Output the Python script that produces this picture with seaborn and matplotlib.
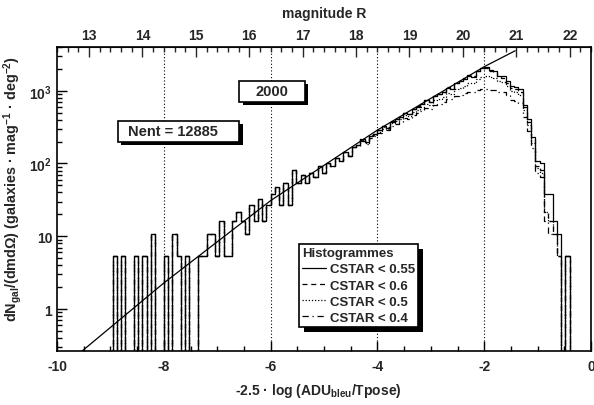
import numpy as np
import pandas as pd
import seaborn as sns
import matplotlib.pyplot as plt
import matplotlib.patheffects as pe
from matplotlib.patches import Rectangle
from matplotlib.ticker import MultipleLocator, FixedLocator, LogLocator, NullFormatter

############################
# 1. Data
############################

# 125 bins of 0.08 on -2.5 log(ADU/Tpose)
x_min, x_max, n_bins = -10.0, 0.0, 125

# one galaxy in a bin, in galaxies / mag / deg^2
norm = 5.36

# bright end (-10 .. -4.4): identical for all CSTAR cuts
bright_counts = [0, 0, 0, 0, 0, 0, 0, 0, 0, 0,
                 0, 0, 0, 1, 0, 1, 0, 0, 1, 0,
                 1, 0, 2, 0, 0, 1, 0, 2, 1, 0,
                 1, 0, 0, 1, 1, 2, 2, 1, 3, 1,
                 1, 3, 4, 3, 2, 5, 3, 6, 3, 5,
                 7, 9, 5, 10, 5, 15, 10, 13, 10, 14,
                 12, 17, 14, 19, 17, 22, 20, 27, 24, 31]

# faint end (-4.4 .. 0) for each cut
faint_cstar_055 = [34, 40, 37, 45, 48, 53, 62, 58, 70, 76,
                   80, 92, 88, 104, 112, 122, 138, 130, 158, 168,
                   180, 205, 196, 235, 250, 270, 300, 290, 345, 380,
                   390, 360, 350, 300, 295, 250, 216, 210, 197, 120,
                   76, 43, 20, 19, 7, 7, 3, 2, 0, 1,
                   0, 0, 0, 0, 0]
faint_cstar_06 = [34, 41, 37, 46, 48, 54, 62, 59, 71, 76,
                  82, 92, 90, 104, 114, 122, 140, 132, 160, 170,
                  182, 208, 200, 238, 255, 275, 305, 300, 350, 375,
                  380, 350, 335, 290, 280, 235, 205, 195, 180, 110,
                  70, 40, 17, 15, 4, 3, 2, 1, 0, 1,
                  0, 0, 0, 0, 0]
faint_cstar_05 = [33, 39, 36, 44, 46, 51, 60, 56, 67, 72,
                  76, 86, 83, 96, 102, 110, 122, 118, 138, 145,
                  155, 172, 170, 195, 205, 220, 240, 240, 270, 290,
                  300, 290, 280, 255, 245, 215, 185, 180, 165, 100,
                  64, 36, 16, 14, 4, 3, 2, 1, 0, 1,
                  0, 0, 0, 0, 0]
faint_cstar_04 = [32, 38, 35, 42, 44, 49, 56, 53, 62, 66,
                  70, 78, 76, 86, 92, 98, 108, 104, 118, 124,
                  132, 145, 142, 158, 165, 172, 182, 180, 190, 195,
                  195, 190, 188, 182, 178, 165, 140, 135, 125, 80,
                  52, 30, 14, 12, 3, 2, 2, 1, 0, 1,
                  0, 0, 0, 0, 0]

labels = ["CSTAR < 0.55", "CSTAR < 0.6", "CSTAR < 0.5", "CSTAR < 0.4"]
linestyles = ["-", (0, (4, 3)), (0, (1, 1.5)), (0, (5, 3, 1, 3))]

# fitted curve drawn over the histograms
fit_x = [-9.53, -8.0, -6.0, -4.0, -2.0, -1.42]
fit_y = [0.265, 2.28, 30.9, 288.0, 2140.0, 3540.0]

# magnitude R = x + offset
mag_offset = 22.4
n_entries = 12885
year_label = "2000"

############################
# 2. Style
############################

sns.set_style("ticks")
plt.rcParams["font.family"] = ["Liberation Sans", "DejaVu Sans"]
plt.rcParams["font.weight"] = "bold"
plt.rcParams["axes.labelweight"] = "bold"
plt.rcParams["axes.unicode_minus"] = False
plt.rcParams["mathtext.fontset"] = "custom"
plt.rcParams["mathtext.rm"] = "Liberation Sans:bold"
plt.rcParams["mathtext.bf"] = "Liberation Sans:bold"
plt.rcParams["mathtext.it"] = "Liberation Sans:bold"
plt.rcParams["mathtext.default"] = "bf"

fig = plt.figure(figsize=(5.94, 4.06), dpi=100)
ax = fig.add_axes([0.096, 0.133, 0.899, 0.749])

############################
# 3. Histograms
############################

edges = np.linspace(x_min, x_max, n_bins + 1)
centers = 0.5 * (edges[:-1] + edges[1:])

hist_lines = []
for faint, lab, ls in zip([faint_cstar_055, faint_cstar_06, faint_cstar_05, faint_cstar_04],
                          labels, linestyles):
    counts = np.array(bright_counts + faint, dtype=float)
    df = pd.DataFrame({"x": centers, "w": counts * norm})
    n_before = len(ax.lines)
    sns.histplot(data=df, x="x", weights="w", bins=edges.tolist(), element="step",
                 fill=False, color="black", linewidth=0.9, linestyle=ls, ax=ax)
    if len(ax.lines) > n_before:
        ax.lines[-1].set_label(lab)
        hist_lines.append(ax.lines[-1])

sns.lineplot(x=fit_x, y=fit_y, color="black", linewidth=0.9, ax=ax)

ax.set_yscale("log", nonpositive="clip")
ax.set_xlim(x_min, x_max)
ax.set_ylim(0.265, 4000)

for gx in [-8, -6, -4, -2]:
    ax.axvline(gx, color="black", linestyle=(0, (1, 2)), linewidth=0.8, zorder=0)

############################
# 4. Axes, ticks, labels
############################

for side in ["left", "bottom", "top", "right"]:
    ax.spines[side].set_linewidth(1.2)
    ax.spines[side].set_color("black")

ax.xaxis.set_major_locator(MultipleLocator(2))
ax.xaxis.set_minor_locator(MultipleLocator(0.5))
ax.yaxis.set_major_locator(FixedLocator([1, 10, 100, 1000]))
ax.set_yticklabels(["1", "10", "$10^{2}$", "$10^{3}$"])
ax.yaxis.set_minor_locator(LogLocator(base=10, subs=np.arange(2, 10)))
ax.yaxis.set_minor_formatter(NullFormatter())
ax.tick_params(which="both", direction="in", top=False, right=False,
               labelsize=10, width=1, color="black")
ax.tick_params(which="major", length=7)
ax.tick_params(which="minor", length=3.5)
ax.tick_params(axis="x", pad=6)

sec = ax.secondary_xaxis("top", functions=(lambda v: v + mag_offset, lambda m: m - mag_offset))
sec.xaxis.set_major_locator(FixedLocator(list(range(13, 23))))
sec.xaxis.set_minor_locator(MultipleLocator(0.2))
sec.tick_params(which="both", direction="in", labelsize=10, width=1)
sec.tick_params(which="major", length=7)
sec.tick_params(which="minor", length=3.5)
sec.set_xlabel("magnitude R", fontsize=10, fontweight="bold", labelpad=8)

ax.set_xlabel("-2.5 · log (ADU$_{bleu}$/Tpose)", fontsize=10)
ax.xaxis.set_label_coords(0.49, -0.099)
ax.set_ylabel("dN$_{gal}$/(dmdΩ) (galaxies · mag$^{-1}$ · deg$^{-2}$)", fontsize=10.4)
ax.yaxis.set_label_coords(-0.062, 0.535)

############################
# 5. Boxes and legend
############################

shadow = [pe.SimplePatchShadow(offset=(2.5, -2.5), shadow_rgbFace="black", alpha=1), pe.Normal()]


def text_box(x0, y0, x1, y1, txt, xc):
    r = Rectangle((x0, y0), x1 - x0, y1 - y0, transform=ax.transAxes,
                  facecolor="white", edgecolor="black", linewidth=1.2, zorder=5)
    r.set_path_effects(shadow)
    ax.add_patch(r)
    ax.text(xc, (y0 + y1) / 2, txt, transform=ax.transAxes,
            ha="center", va="center", fontsize=10.5, fontweight="bold", zorder=6)


text_box(0.341, 0.819, 0.464, 0.888, year_label, 0.4025)
text_box(0.114, 0.6875, 0.341, 0.757, f"Nent = {n_entries}", 0.217)

leg = ax.legend(handles=hist_lines, loc="upper left", bbox_to_anchor=(0.453, 0.352),
                title="Histogrammes", fontsize=9.5, title_fontsize=9.5, handlelength=1.8,
                handletextpad=0.3, labelspacing=0.3, borderpad=0.25, borderaxespad=0,
                fancybox=False, framealpha=1, edgecolor="black", alignment="left")
leg.get_title().set_fontweight("bold")
leg.get_frame().set_linewidth(1.2)
leg.get_frame().set_path_effects([pe.SimplePatchShadow(offset=(3.6, -3.6), shadow_rgbFace="black", alpha=1),
                                  pe.Normal()])
leg.set_zorder(7)

fig.savefig("out.png", dpi=100)
